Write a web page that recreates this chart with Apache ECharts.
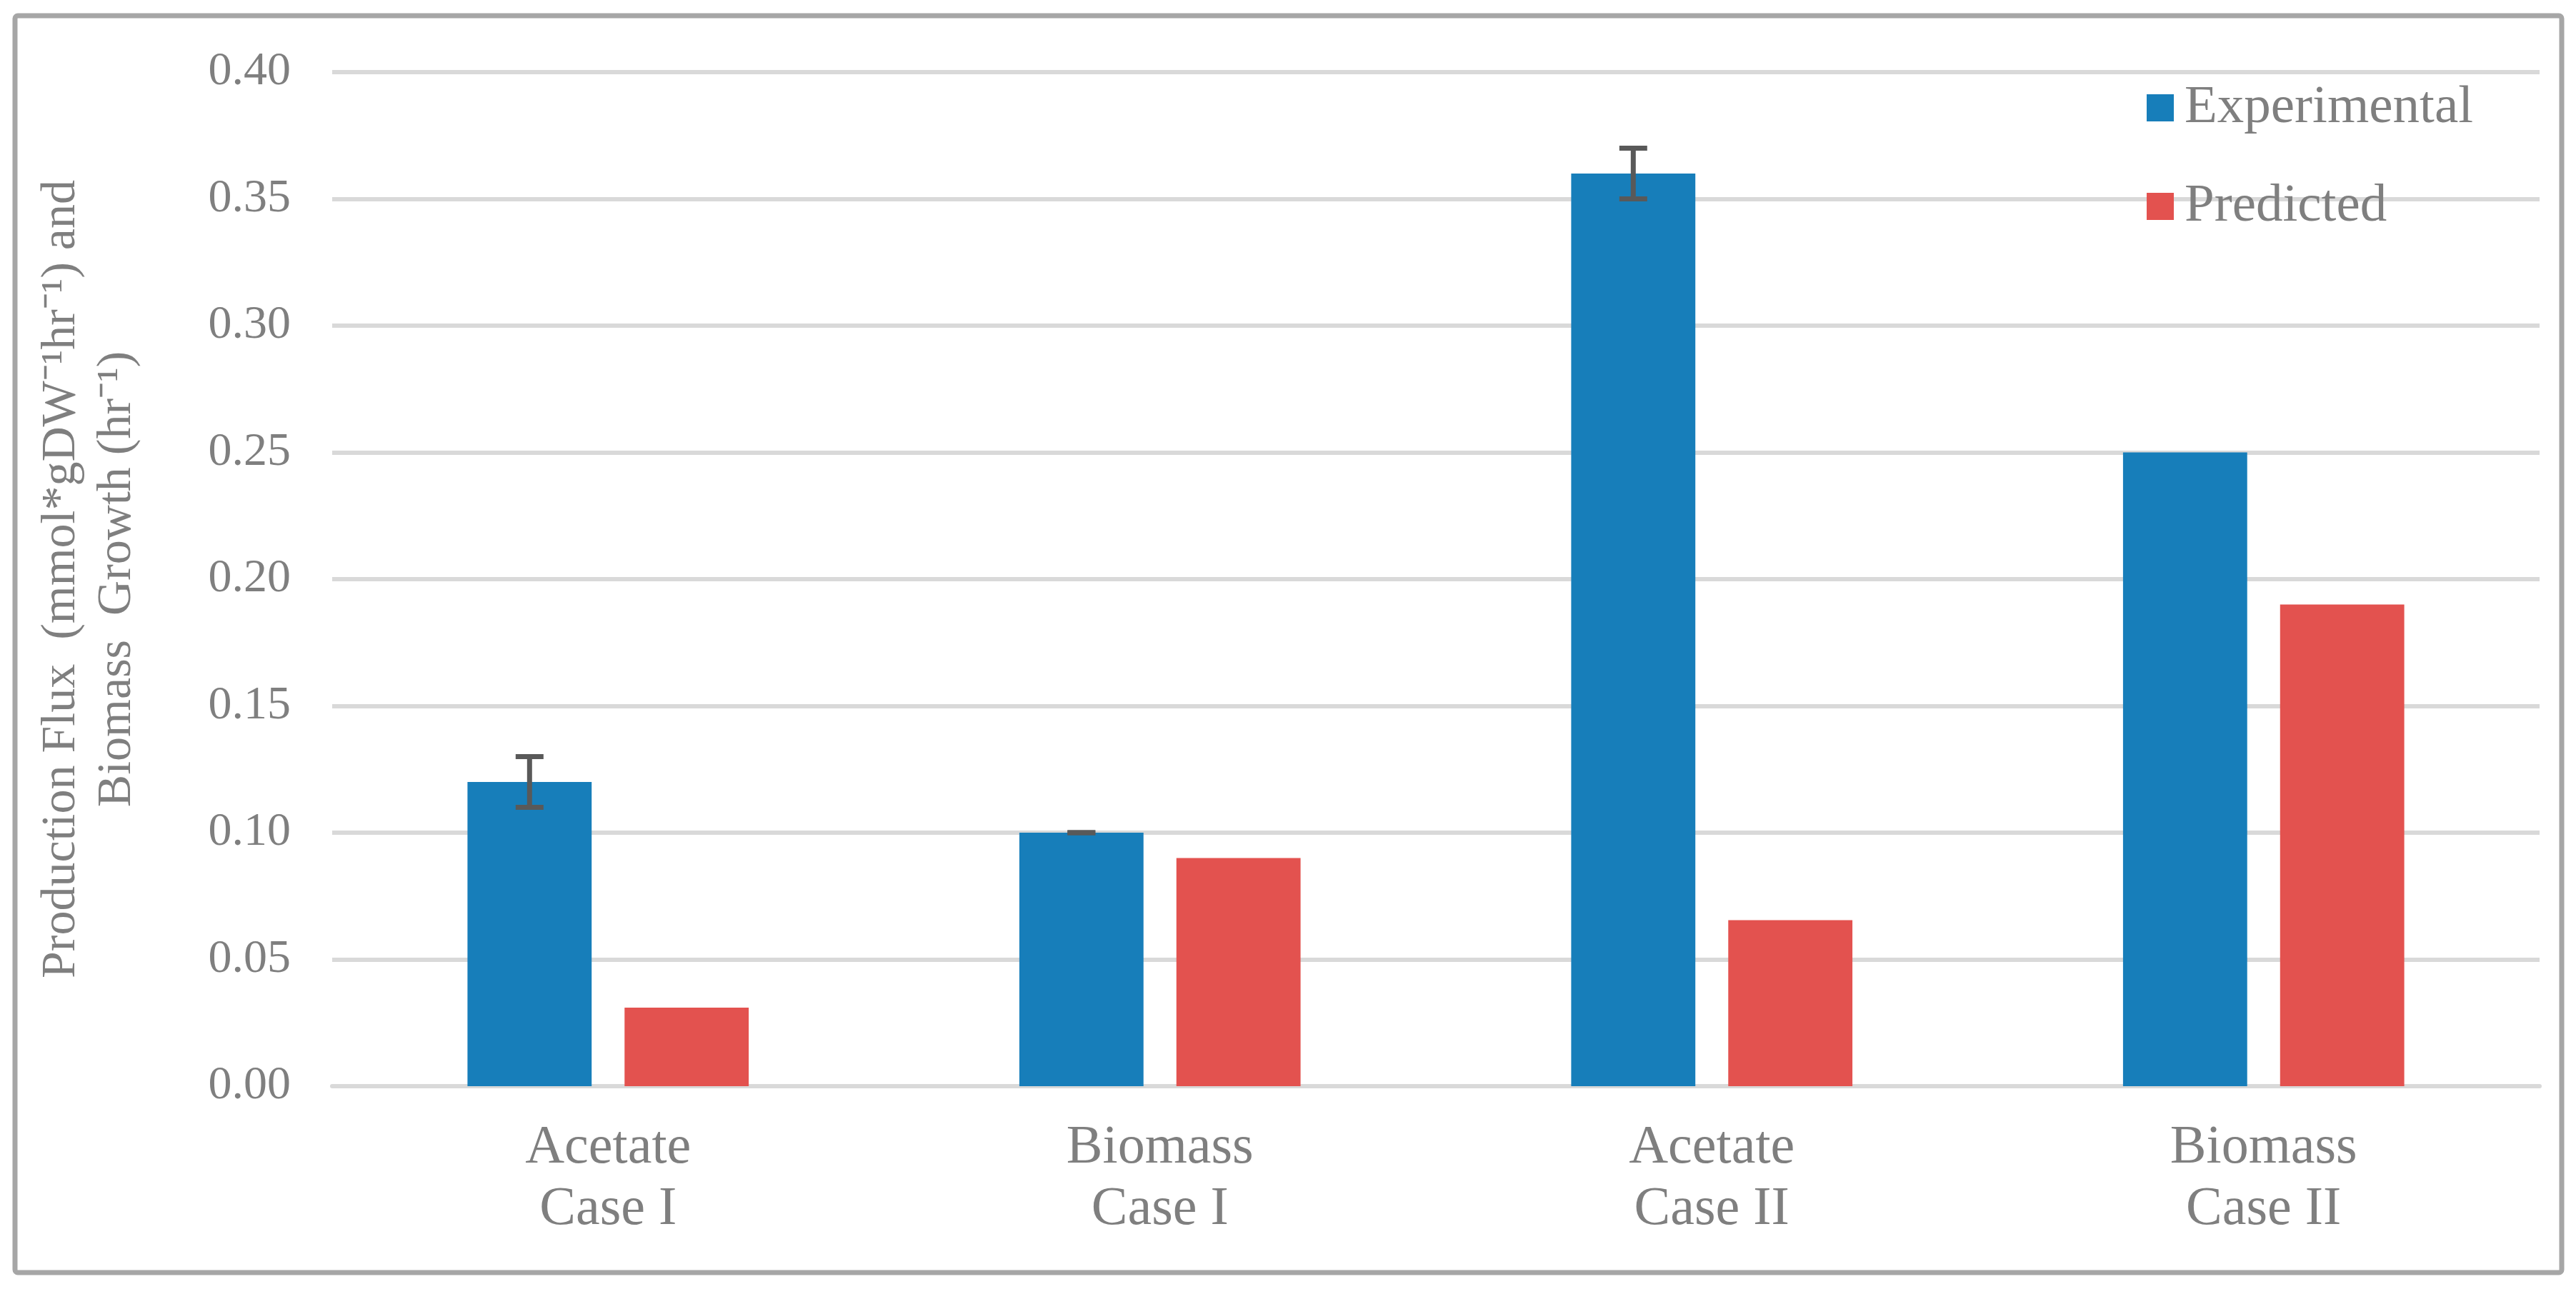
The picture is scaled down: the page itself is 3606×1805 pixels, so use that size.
<!DOCTYPE html>
<html>
<head>
<meta charset="utf-8">
<script src="https://cdn.jsdelivr.net/npm/echarts@6/dist/echarts.min.js"></script>
<style>
html,body{margin:0;padding:0;background:#fff;}
#chart{width:3606px;height:1805px;}
</style>
</head>
<body>
<div id="chart"></div>
<script>
const categories = ['Acetate\nCase I', 'Biomass\nCase I', 'Acetate\nCase II', 'Biomass\nCase II'];
const seriesNames = ['Experimental', 'Predicted'];
const experimental = [0.12, 0.10, 0.36, 0.25];
const predicted = [0.031, 0.09, 0.0655, 0.19];
const experimentalErr = [0.01, 0.0, 0.01, null];
const yTicks = { min: 0, max: 0.4, interval: 0.05 };
const yTitleLines = ['Production Flux  (mmol*gDW\u207B\u00B9hr\u207B\u00B9) and', 'Biomass  Growth (hr\u207B\u00B9)'];

const FONT = '"Liberation Serif", "Times New Roman", serif';
const GRAY = '#7f7f7f';
const BLUE = '#177eba';
const RED = '#e3524f';
const BAR_W = 0.225;
const BAR_GAP = 0.265;

const chart = echarts.init(document.getElementById('chart'), null, {renderer: 'canvas'});

const errData = experimental.map((v, i) => [i, v, experimentalErr[i]]).filter(d => d[2] !== null);

const option = {
  backgroundColor: '#ffffff',
  animation: false,
  graphic: [{
    type: 'rect',
    shape: {x: 21, y: 22, width: 3565, height: 1760, r: 4},
    style: {fill: 'none', stroke: '#a6a6a6', lineWidth: 7},
    silent: true, z: -1
  }],
  grid: {left: 465, right: 51, top: 101, bottom: 284, containLabel: false},
  legend: {
    data: seriesNames,
    orient: 'vertical',
    left: 3000,
    top: 106,
    icon: 'rect',
    itemWidth: 38,
    itemHeight: 38,
    itemGap: 58,
    textStyle: {fontFamily: FONT, fontSize: 75, lineHeight: 80, color: GRAY, padding: [0, 0, 0, 10]}
  },
  xAxis: {
    type: 'category',
    data: categories,
    axisLine: {show: true, lineStyle: {color: '#d9d9d9', width: 6}},
    axisTick: {show: false},
    axisLabel: {fontFamily: FONT, fontSize: 76, lineHeight: 86, color: GRAY, margin: 44, interval: 0}
  },
  yAxis: {
    type: 'value',
    min: yTicks.min,
    max: yTicks.max,
    interval: yTicks.interval,
    axisLine: {show: false},
    axisTick: {show: false},
    splitLine: {show: true, lineStyle: {color: '#d9d9d9', width: 6}},
    axisLabel: {fontFamily: FONT, fontSize: 66, color: GRAY, margin: 58, formatter: v => v.toFixed(2)},
    name: yTitleLines.join('\n'),
    nameLocation: 'middle',
    nameGap: 262,
    nameTextStyle: {fontFamily: FONT, fontSize: 68, color: GRAY, lineHeight: 78}
  },
  series: [
    {
      name: seriesNames[0], type: 'bar', data: experimental,
      barWidth: (BAR_W * 100) + '%', barGap: (BAR_GAP * 100) + '%',
      itemStyle: {color: BLUE}
    },
    {
      name: seriesNames[1], type: 'bar', data: predicted,
      barWidth: (BAR_W * 100) + '%', barGap: (BAR_GAP * 100) + '%',
      itemStyle: {color: RED}
    },
    {
      name: 'Experimental error', type: 'custom', data: errData, z: 10,
      renderItem: function (params, api) {
        const i = api.value(0), v = api.value(1), e = api.value(2);
        const cw = api.size([1, 0])[0];
        const off = cw * BAR_W * (1 + BAR_GAP) / 2;
        const top = api.coord([i, v + e]);
        const bot = api.coord([i, v - e]);
        const x = top[0] - off;
        const half = 19.5;
        const st = {stroke: '#595959', lineWidth: 7};
        return {
          type: 'group',
          children: [
            {type: 'line', shape: {x1: x, y1: top[1], x2: x, y2: bot[1]}, style: st},
            {type: 'line', shape: {x1: x - half, y1: top[1], x2: x + half, y2: top[1]}, style: st},
            {type: 'line', shape: {x1: x - half, y1: bot[1], x2: x + half, y2: bot[1]}, style: st}
          ]
        };
      }
    }
  ]
};
chart.setOption(option);
</script>
</body>
</html>
